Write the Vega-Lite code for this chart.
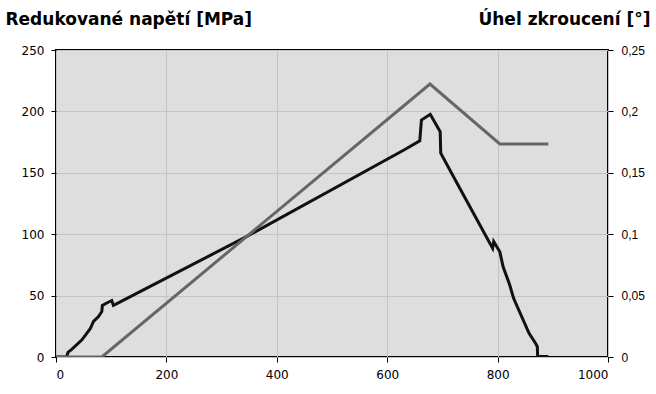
{
  "$schema": "https://vega.github.io/schema/vega-lite/v6.json",
  "width": 552,
  "height": 307,
  "autosize": {"type": "none"},
  "padding": {"left": 56, "top": 50, "right": 48, "bottom": 37},
  "background": "white",
  "config": {
    "view": {"fill": "#dedede", "stroke": "black", "strokeWidth": 2},
    "axis": {
      "domain": false,
      "gridColor": "#c4c4c4",
      "gridWidth": 1,
      "tickColor": "black",
      "tickSize": 5,
      "labelColor": "black",
      "labelFont": "DejaVu Sans",
      "labelFontSize": 12,
      "titleColor": "black",
      "titleFont": "DejaVu Sans",
      "titleFontSize": 17,
      "titleFontWeight": "bold"
    }
  },
  "datasets": {
    "stress": [
      {"x": 0, "v": 0}, {"x": 19, "v": 0}, {"x": 22, "v": 4}, {"x": 28, "v": 6},
      {"x": 47, "v": 14}, {"x": 62, "v": 23}, {"x": 68, "v": 29}, {"x": 77, "v": 33},
      {"x": 83, "v": 37}, {"x": 84, "v": 42}, {"x": 92, "v": 44}, {"x": 101, "v": 46},
      {"x": 104, "v": 42}, {"x": 119, "v": 45.5}, {"x": 345, "v": 98}, {"x": 632, "v": 169},
      {"x": 659, "v": 176}, {"x": 662, "v": 193}, {"x": 678, "v": 197.6}, {"x": 696, "v": 183.5},
      {"x": 697, "v": 166}, {"x": 732, "v": 137}, {"x": 786, "v": 92.6}, {"x": 791, "v": 88.5},
      {"x": 793, "v": 94}, {"x": 804, "v": 85.7}, {"x": 810, "v": 73.5}, {"x": 822, "v": 58.6},
      {"x": 829, "v": 47.8}, {"x": 857, "v": 19.3}, {"x": 869, "v": 11}, {"x": 872, "v": 8.4},
      {"x": 872.5, "v": 0.5}, {"x": 892, "v": 0.5}
    ],
    "angle": [
      {"x": 0, "a": 0}, {"x": 83, "a": 0}, {"x": 677.5, "a": 0.2223},
      {"x": 804, "a": 0.1735}, {"x": 892, "a": 0.1735}
    ]
  },
  "layer": [
    {
      "data": {"name": "stress"},
      "mark": {"type": "line", "color": "#111111", "strokeWidth": 3, "clip": true},
      "encoding": {
        "x": {
          "field": "x", "type": "quantitative",
          "scale": {"domain": [0, 1000], "nice": false},
          "axis": {"values": [0, 200, 400, 600, 800, 1000], "format": "d", "title": null, "labelPadding": 7}
        },
        "y": {
          "field": "v", "type": "quantitative",
          "scale": {"domain": [0, 250], "nice": false},
          "axis": {
            "values": [0, 50, 100, 150, 200, 250],
            "labelPadding": 7,
            "title": "Redukované napětí [MPa]",
            "titleAngle": 0,
            "titleX": -51,
            "titleY": -26,
            "titleAlign": "left",
            "titleBaseline": "alphabetic"
          }
        }
      }
    },
    {
      "data": {"name": "angle"},
      "mark": {"type": "line", "color": "#666666", "strokeWidth": 3, "clip": true},
      "encoding": {
        "x": {"field": "x", "type": "quantitative"},
        "y": {
          "field": "a", "type": "quantitative",
          "scale": {"domain": [0, 0.25], "nice": false},
          "axis": {
            "orient": "right",
            "grid": false,
            "values": [0, 0.05, 0.1, 0.15, 0.2, 0.25],
            "labelExpr": "replace(format(datum.value, '~g'), '.', ',')",
            "labelFont": "Liberation Sans",
            "labelFontSize": 12,
            "labelPadding": 8,
            "title": "Úhel zkroucení [°]",
            "titleAngle": 0,
            "titleX": 42,
            "titleY": -26,
            "titleAlign": "right",
            "titleBaseline": "alphabetic"
          }
        }
      }
    }
  ],
  "resolve": {"scale": {"y": "independent"}}
}
